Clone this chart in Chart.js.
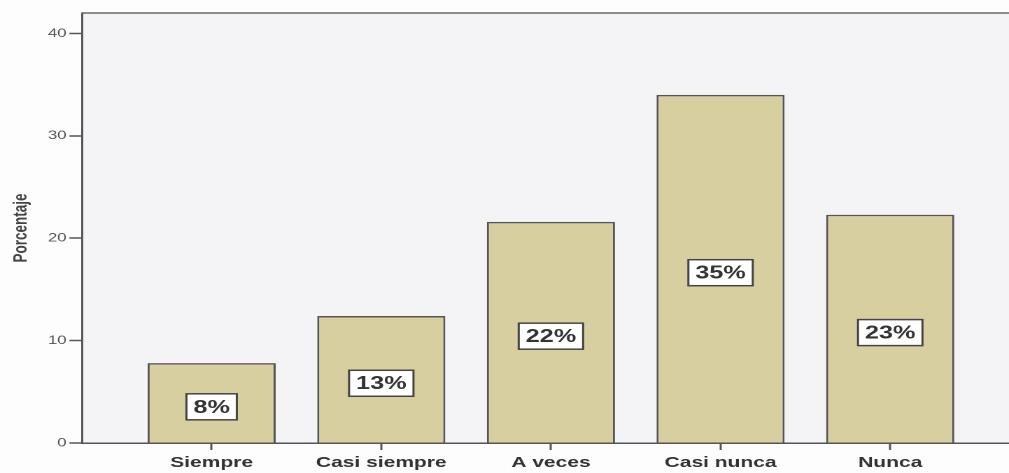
<!DOCTYPE html>
<html><head><meta charset="utf-8">
<script src="https://cdn.jsdelivr.net/npm/chart.js@4"></script>
<style>
html,body{margin:0;padding:0;background:#fdfdfd;overflow:hidden;width:1009px;height:473px}
#wrap{position:absolute;left:0;top:0;width:721px;height:473px;transform:scaleX(1.3994);transform-origin:0 0}
canvas{display:block}
</style></head><body>
<div id="wrap"><canvas id="c" width="721" height="473"></canvas></div>
<script>
const categories = ['Siempre', 'Casi siempre', 'A veces', 'Casi nunca', 'Nunca'];
const percentages = [7.8, 12.4, 21.6, 34.0, 22.3];
const barLabels = ['8%', '13%', '22%', '35%', '23%'];
const yTicks = [0, 10, 20, 30, 40];
const yTitle = 'Porcentaje';

const framePlugin = {
  id: 'frame',
  beforeDraw(chart) {
    const {ctx, chartArea: a} = chart;
    ctx.save();
    ctx.fillStyle = '#f4f4f7';
    ctx.fillRect(a.left, a.top, a.right - a.left + 2, a.bottom - a.top);
    ctx.strokeStyle = '#6a6a6a';
    ctx.lineWidth = 1.5;
    ctx.beginPath();
    ctx.moveTo(a.left, a.top);
    ctx.lineTo(a.right + 2, a.top);
    ctx.stroke();
    ctx.restore();
  }
};

const labelPlugin = {
  id: 'barLabels',
  afterDatasetsDraw(chart) {
    const {ctx} = chart;
    const meta = chart.getDatasetMeta(0);
    ctx.save();
    ctx.font = 'bold 18px "Liberation Sans", Arial, sans-serif';
    ctx.textAlign = 'center';
    ctx.textBaseline = 'middle';
    meta.data.forEach((bar, i) => {
      const p = bar.getProps(['x', 'y', 'base'], true);
      const cy = (p.y + p.base) / 2 + 4;
      const txt = barLabels[i];
      const w = ctx.measureText(txt).width + 10;
      const h = 26;
      ctx.fillStyle = '#ffffff';
      ctx.fillRect(p.x - w / 2, cy - h / 2, w, h);
      ctx.strokeStyle = '#444';
      ctx.lineWidth = 1.5;
      ctx.strokeRect(p.x - w / 2, cy - h / 2, w, h);
      ctx.fillStyle = '#333';
      ctx.fillText(txt, p.x, cy + 1);
    });
    ctx.restore();
  }
};

new Chart(document.getElementById('c'), {
  type: 'bar',
  data: {
    datasets: [{
      data: percentages.map((v, i) => ({x: i, y: v})),
      backgroundColor: '#d8cfa1',
      borderColor: '#555',
      borderWidth: 1.5,
      categoryPercentage: 1,
      barPercentage: 0.755
    }]
  },
  options: {
    responsive: false,
    animation: false,
    devicePixelRatio: 2,
    layout: {padding: {top: 13, left: 0, right: 0, bottom: 0}},
    plugins: {legend: {display: false}, tooltip: {enabled: false}},
    scales: {
      x: {
        type: 'linear',
        min: -0.764,
        max: 4.70,
        offset: false,
        afterBuildTicks: s => { s.ticks = categories.map((c, i) => ({value: i})); },
        afterFit: s => { s.height = 30; },
        grid: {display: true, drawOnChartArea: false, drawTicks: true, tickLength: 7, tickColor: '#555', tickWidth: 1.5, offset: false},
        border: {display: true, color: '#555', width: 1.5},
        ticks: {
          autoSkip: false, maxRotation: 0, padding: 4, color: '#333',
          font: {family: '"Liberation Sans", Arial, sans-serif', size: 15, weight: 'bold'},
          callback: v => categories[v]
        }
      },
      y: {
        min: 0,
        max: 42,
        afterBuildTicks: s => { s.ticks = yTicks.map(v => ({value: v})); },
        afterFit: s => { s.width = 58.6; },
        grid: {display: true, drawOnChartArea: false, drawTicks: true, tickLength: 9, tickColor: '#555', tickWidth: 1.5},
        border: {display: true, color: '#555', width: 1.5},
        ticks: {
          padding: 2, color: '#555',
          font: {family: '"Liberation Sans", Arial, sans-serif', size: 12}
        },
        title: {
          display: true, text: yTitle, color: '#444',
          padding: {top: 7, bottom: 0},
          font: {family: '"Liberation Sans", Arial, sans-serif', size: 13.5, weight: 'bold'}
        }
      }
    }
  },
  plugins: [framePlugin, labelPlugin]
});
</script>
</body></html>
